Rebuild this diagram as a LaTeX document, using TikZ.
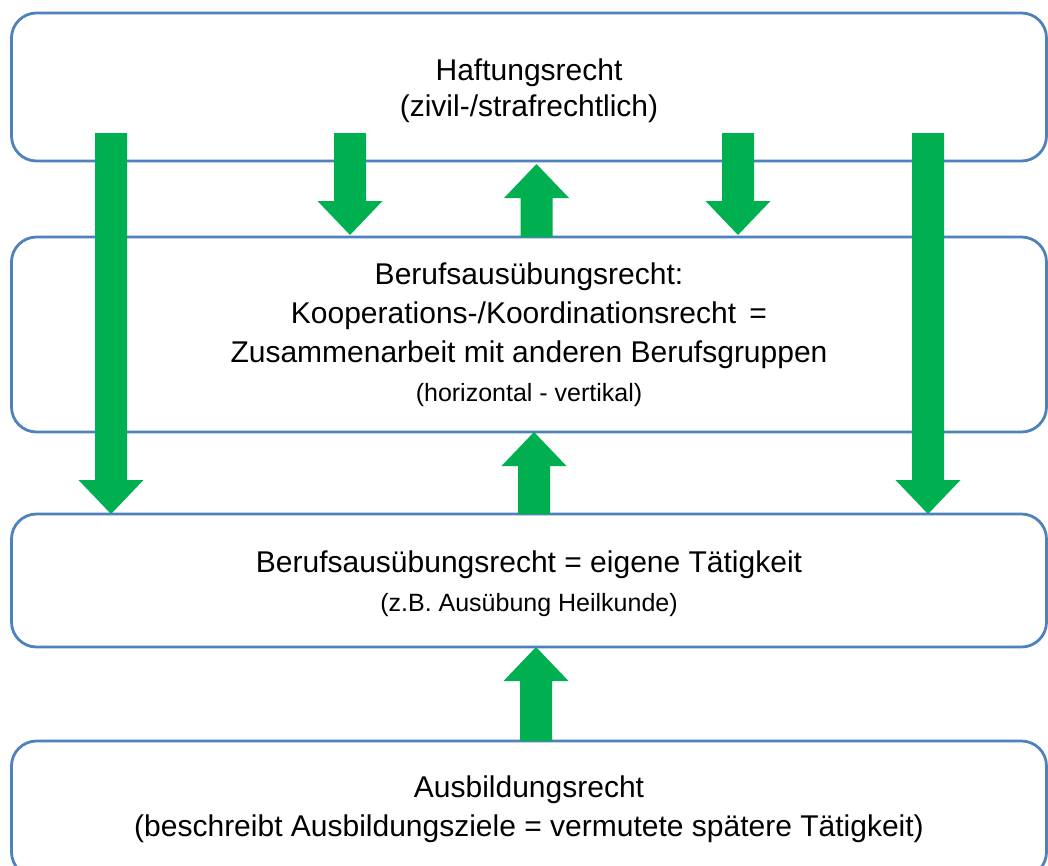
\documentclass[tikz,border=0pt]{standalone}
\usepackage{fontspec}
\setmainfont{Liberation Sans}
\usetikzlibrary{calc}
\definecolor{boxblue}{RGB}{79,129,189}
\definecolor{arrowgreen}{RGB}{0,176,80}
\tikzset{
  rechtbox/.style={draw=boxblue, line width=2.8pt, fill=white, rounded corners=25pt,
    minimum width=1035pt, inner sep=0pt, outer sep=0pt, align=center,
    font=\fontsize{30}{39}\selectfont},
}
\newcommand{\klein}{\fontsize{25}{39}\selectfont}
% block arrows: x position, start point, tip point
\newcommand{\pfeilab}[3]{\fill[arrowgreen] let \p1=(#2), \p2=(#3) in
  ({#1pt-16pt},\y1) -- ({#1pt-16pt},{\y2+34pt}) -- ({#1pt-32.5pt},{\y2+34pt}) -- (#1pt,\y2)
  -- ({#1pt+32.5pt},{\y2+34pt}) -- ({#1pt+16pt},{\y2+34pt}) -- ({#1pt+16pt},\y1) -- cycle;}
\newcommand{\pfeilauf}[3]{\fill[arrowgreen] let \p1=(#2), \p2=(#3) in
  ({#1pt-16pt},\y1) -- ({#1pt-16pt},{\y2-34pt}) -- ({#1pt-32.5pt},{\y2-34pt}) -- (#1pt,\y2)
  -- ({#1pt+32.5pt},{\y2-34pt}) -- ({#1pt+16pt},{\y2-34pt}) -- ({#1pt+16pt},\y1) -- cycle;}
\begin{document}
\begin{tikzpicture}[x=1pt,y=-1pt]
  \useasboundingbox (0,0) rectangle (1048,865);
  \node[rechtbox, minimum height=148pt] (haftung) at (529,87)
    {\rule{0pt}{30pt}Haftungsrecht\\[-3pt](zivil-/strafrechtlich)};
  \node[rechtbox, minimum height=195pt] (koop) at (529,334.5)
    {Berufsausübungsrecht:\\Kooperations-/Koordinationsrecht \,=\\Zusammenarbeit mit anderen Berufsgruppen\\{\klein (horizontal - vertikal)}};
  \node[rechtbox, minimum height=133pt] (eigen) at (529,580.5)
    {\rule{0pt}{29pt}Berufsausübungsrecht = eigene Tätigkeit\\{\klein (z.B. Ausübung Heilkunde)}};
  \node[rechtbox, minimum height=136pt] (ausbildung) at (529,809)
    {Ausbildungsrecht\\(beschreibt Ausbildungsziele = vermutete spätere Tätigkeit)};
  % down from Haftungsrecht
  \pfeilab{111}{[yshift=28pt]haftung.south}{eigen.north}
  \pfeilab{350}{[yshift=28pt]haftung.south}{[yshift=2pt]koop.north}
  \pfeilab{738}{[yshift=28pt]haftung.south}{[yshift=2pt]koop.north}
  \pfeilab{928}{[yshift=28pt]haftung.south}{eigen.north}
  % up
  \pfeilauf{536.5}{koop.north}{[yshift=-3pt]haftung.south}
  \pfeilauf{534}{eigen.north}{koop.south}
  \pfeilauf{536}{ausbildung.north}{eigen.south}
\end{tikzpicture}
\end{document}
